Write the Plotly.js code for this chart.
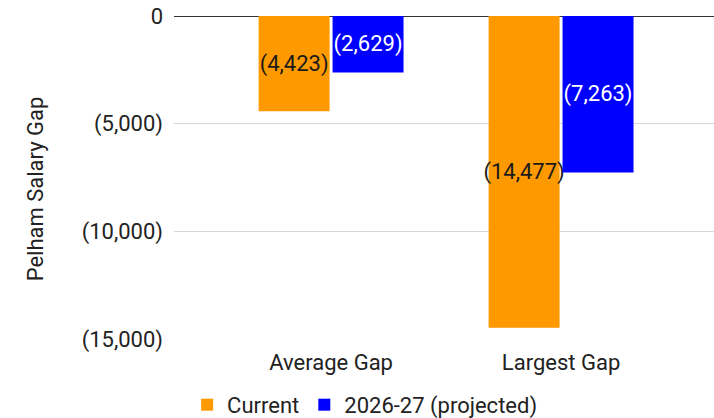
<!DOCTYPE html>
<html><head><meta charset="utf-8">
<script src="https://cdn.plot.ly/plotly-3.0.1.min.js"></script>
<style>html,body{margin:0;padding:0;background:#fff}#c{width:714px;height:418px}</style>
</head><body><div id="c"></div>
<script>
const categories = ['Average Gap', 'Largest Gap'];
const currentVals = [-4423, -14477];
const projectedVals = [-2629, -7263];
const seriesNames = ['Current', '2026-27 (projected)'];
const tickVals = [0, -5000, -10000, -15000];
const tickText = ['0', '(5,000)', '(10,000)', '(15,000)'];

function fmt(v) {
  const s = Math.abs(v).toLocaleString('en-US');
  return v < 0 ? '(' + s + ')' : s;
}
const F = 'Roboto, Arial, sans-serif';
const FS = 22;
const traces = [
  {type:'bar', x:categories, y:currentVals, name:seriesNames[0],
   marker:{color:'#ff9900'}, text:currentVals.map(fmt), textposition:'inside',
   insidetextanchor:'middle', constraintext:'none', textangle:0, cliponaxis:false,
   textfont:{family:F, size:FS, color:'#1a1a1a'}, hoverinfo:'skip'},
  {type:'bar', x:categories, y:projectedVals, name:seriesNames[1],
   marker:{color:'#0000ff'}, text:projectedVals.map(fmt), textposition:'inside',
   insidetextanchor:'middle', constraintext:'none', textangle:0, cliponaxis:false,
   textfont:{family:F, size:FS, color:'#ffffff'}, hoverinfo:'skip'}
];
const layout = {
  width:714, height:418,
  margin:{l:174, r:0, t:16, b:79, autoexpand:false},
  paper_bgcolor:'#fff', plot_bgcolor:'#fff',
  font:{family:F, size:FS, color:'#222'},
  barmode:'group', bargap:0.357, bargroupgap:0.04,
  xaxis:{range:[-0.683, 1.665], showgrid:false, zeroline:false, showline:false,
         ticks:'', ticklabelstandoff:8, tickfont:{family:F, size:FS, color:'#222'}, fixedrange:true},
  yaxis:{range:[-15000, 0], tickvals:tickVals, ticktext:tickText,
         showgrid:true, gridcolor:'#d9d9d9', gridwidth:1,
         zeroline:true, zerolinecolor:'#333', zerolinewidth:1,
         ticks:'', ticklabelstandoff:10, tickfont:{family:F, size:FS, color:'#222'}, fixedrange:true},
  showlegend:true,
  legend:{orientation:'h', x:0.353, xanchor:'center', y:-0.204, yanchor:'middle',
          font:{family:F, size:FS, color:'#222'}, itemwidth:30},
  annotations:[{text:'Pelham Salary Gap', xref:'paper', yref:'paper',
    x:-0.257, y:0.464, xanchor:'center', yanchor:'middle', showarrow:false, textangle:-90,
    font:{family:F, size:FS, color:'#222'}}]
};
Plotly.newPlot('c', traces, layout, {displayModeBar:false, staticPlot:true});
</script></body></html>
